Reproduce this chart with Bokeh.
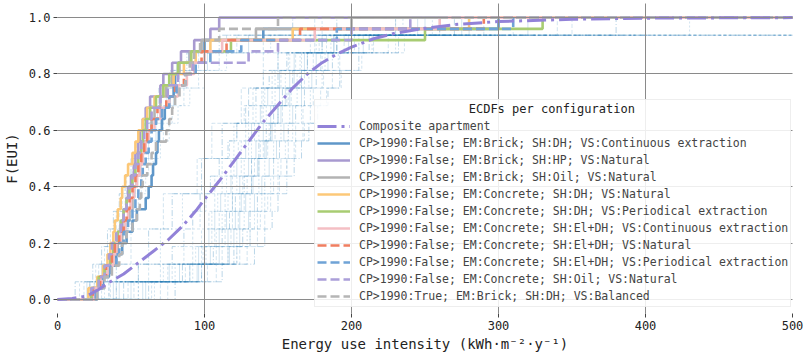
from bokeh.plotting import figure
from bokeh.models import FixedTicker, PrintfTickFormatter, Legend, LegendItem, Range1d
from bokeh.embed import file_html
from bokeh.resources import INLINE

# ---------------- data ----------------
X_LIM = (0, 500)
Y_LIM = (-0.05, 1.05)
X_TICKS = [0, 100, 200, 300, 400, 500]
Y_TICKS = [0.0, 0.2, 0.4, 0.6, 0.8, 1.0]
X_GRID = [100, 200, 300, 400, 500]

composite_label = "Composite apartment"
composite_x = [0, 10, 20, 28, 35, 45, 55, 65, 75, 85, 95, 100, 110, 120, 130, 140, 150,
               160, 170, 180, 190, 200, 215, 230, 250, 270, 300, 350, 400, 500]
composite_f = [0.0, 0.003, 0.012, 0.035, 0.06, 0.09, 0.13, 0.17, 0.21, 0.26, 0.32, 0.355,
               0.42, 0.49, 0.56, 0.63, 0.69, 0.75, 0.80, 0.84, 0.87, 0.895, 0.925, 0.945,
               0.962, 0.975, 0.986, 0.994, 0.998, 1.0]

legend_title = "ECDFs per configuration"
config_labels = [
    "CP>1990:False; EM:Brick; SH:DH; VS:Continuous extraction",
    "CP>1990:False; EM:Brick; SH:HP; VS:Natural",
    "CP>1990:False; EM:Brick; SH:Oil; VS:Natural",
    "CP>1990:False; EM:Concrete; SH:DH; VS:Natural",
    "CP>1990:False; EM:Concrete; SH:DH; VS:Periodical extraction",
    "CP>1990:False; EM:Concrete; SH:El+DH; VS:Continuous extraction",
    "CP>1990:False; EM:Concrete; SH:El+DH; VS:Natural",
    "CP>1990:False; EM:Concrete; SH:El+DH; VS:Periodical extraction",
    "CP>1990:False; EM:Concrete; SH:Oil; VS:Natural",
    "CP>1990:True; EM:Brick; SH:DH; VS:Balanced",
]
config_colors = ["#5f97c9", "#a89ad0", "#b3b3b3", "#fcc878", "#a8cc72",
                 "#f4bfc4", "#f07e60", "#6fa3d6", "#ab9fd9", "#b5b5b5"]
config_dashes = ["solid", "solid", "solid", "solid", "solid",
                 "solid", "9 4", "9 4", "9 4", "9 4"]

cfg_brick_dh_cont = [27, 31, 35, 40, 44, 47, 51, 54, 60, 62, 64, 65, 67, 68, 69, 71, 73, 76, 79, 80, 82, 90, 100, 140, 300]
cfg_brick_hp_nat = [24, 29, 32, 36, 38, 41, 44, 45, 47, 48, 50, 52, 53, 55, 56, 58, 60, 63, 70, 72, 78, 84, 93, 104, 110]
cfg_brick_oil_nat = [26, 30, 34, 38, 41, 44, 46, 49, 51, 52, 54, 56, 58, 59, 61, 64, 66, 70, 74, 78, 83, 90, 98, 135, 200]
cfg_conc_dh_nat = [21, 27, 31, 34, 36, 38, 39, 41, 43, 44, 46, 48, 51, 53, 55, 58, 61, 66, 72, 79, 86, 94, 104, 160, 280]
cfg_conc_dh_per = [23, 28, 32, 36, 38, 41, 43, 45, 47, 49, 51, 53, 55, 57, 58, 60, 63, 67, 72, 76, 82, 91, 118, 250, 330]
cfg_conc_eldh_cont = [25, 30, 34, 38, 40, 43, 46, 48, 50, 52, 54, 56, 58, 60, 62, 66, 70, 76, 82, 88, 93, 100, 112, 175, 260]
cfg_conc_eldh_nat = [24, 29, 33, 37, 39, 42, 45, 47, 49, 51, 53, 55, 57, 59, 61, 64, 68, 74, 80, 86, 92, 98, 115, 165, 290]
cfg_conc_eldh_per = [26, 31, 36, 40, 42, 45, 48, 51, 53, 55, 57, 58, 60, 62, 64, 67, 71, 76, 81, 87, 94, 104, 125, 190, 310]
cfg_conc_oil_nat = [23, 28, 32, 35, 37, 40, 43, 45, 47, 49, 51, 53, 55, 57, 59, 61, 64, 70, 75, 82, 92, 130, 150, 200, 240]
cfg_true_brick_dh_bal = [27, 32, 37, 42, 44, 47, 51, 54, 56, 57, 58, 61, 64, 67, 74, 76, 78, 80, 83, 87, 90, 93, 97, 110, 150]

config_samples = [cfg_brick_dh_cont, cfg_brick_hp_nat, cfg_brick_oil_nat, cfg_conc_dh_nat,
                  cfg_conc_dh_per, cfg_conc_eldh_cont, cfg_conc_eldh_nat, cfg_conc_eldh_per,
                  cfg_conc_oil_nat, cfg_true_brick_dh_bal]

# individual-building ECDF samples (thin background lines)
bg_right = [
    [25, 62, 86, 92, 97, 101, 107, 112, 117, 122, 127, 133, 140, 150, 172, 240],
    [38, 76, 96, 103, 107, 111, 118, 122, 128, 132, 138, 143, 151, 161, 180, 250],
    [45, 85, 106, 112, 117, 121, 127, 132, 137, 142, 147, 153, 160, 170, 190, 260],
    [55, 92, 116, 122, 127, 131, 137, 141, 147, 152, 158, 163, 171, 182, 205, 300],
    [70, 102, 124, 131, 136, 141, 147, 152, 157, 162, 167, 174, 181, 192, 215, 340],
    [30, 70, 92, 98, 103, 107, 112, 118, 123, 128, 133, 139, 146, 157, 178, 520],
    [50, 90, 110, 116, 121, 125, 132, 136, 142, 146, 152, 158, 166, 176, 198, 280],
    [62, 98, 120, 126, 131, 136, 141, 147, 151, 157, 162, 168, 176, 187, 212, 380],
    [40, 80, 101, 108, 112, 116, 122, 127, 132, 137, 142, 148, 155, 166, 186, 255],
    [75, 108, 129, 136, 141, 145, 151, 156, 161, 167, 172, 179, 187, 200, 225, 520],
    [35, 75, 98, 107, 114, 119, 126, 132, 138, 144, 150, 157, 166, 180, 205, 310],
    [60, 96, 116, 120, 124, 128, 133, 137, 141, 145, 150, 155, 161, 170, 188, 245],
    [22, 55, 78, 86, 92, 97, 104, 110, 116, 122, 128, 135, 144, 156, 180, 270],
    [66, 100, 122, 129, 134, 139, 145, 150, 155, 160, 166, 172, 180, 191, 214, 430],
    [48, 87, 108, 114, 119, 124, 129, 134, 140, 145, 150, 156, 163, 174, 195, 290],
    [36, 78, 99, 105, 110, 114, 119, 125, 130, 134, 139, 146, 152, 162, 183, 520],
    [58, 95, 117, 124, 130, 134, 139, 144, 149, 154, 160, 166, 173, 184, 208, 320],
    [80, 112, 134, 141, 146, 150, 156, 161, 166, 171, 177, 184, 192, 205, 232, 400],
    [32, 72, 94, 100, 105, 109, 115, 120, 125, 130, 135, 141, 148, 158, 176, 235],
    [52, 90, 112, 118, 123, 127, 132, 137, 143, 148, 153, 159, 168, 179, 202, 350],
    [64, 98, 122, 131, 138, 143, 150, 156, 162, 168, 175, 183, 193, 207, 236, 520],
    [42, 83, 104, 110, 115, 119, 124, 130, 135, 140, 145, 151, 158, 168, 188, 275],
]
bg_coarse = [
    [40, 62, 78, 98, 112, 130, 150, 190],
    [55, 70, 85, 100, 120, 140, 165, 230],
    [35, 50, 72, 95, 105, 125, 140, 175],
]
bg_left = [
    [15, 26, 32, 36, 40, 44, 47, 51, 55, 59, 64, 70, 78, 90, 115, 180],
    [20, 30, 36, 41, 45, 49, 53, 57, 62, 67, 72, 79, 88, 102, 130, 230],
    [12, 24, 30, 34, 38, 42, 46, 50, 54, 58, 63, 69, 77, 88, 110, 160],
    [25, 34, 40, 45, 50, 55, 60, 65, 70, 76, 82, 90, 100, 115, 145, 300],
    [18, 28, 34, 38, 42, 46, 50, 54, 58, 63, 68, 74, 83, 96, 122, 520],
    [22, 32, 38, 43, 48, 53, 57, 62, 67, 72, 78, 86, 96, 110, 140, 260],
]

MONO = "DejaVu Sans Mono"


def ecdf_xy(samples):
    s = sorted(samples)
    n = len(s)
    xs = [X_LIM[0]] + s + [max(X_LIM[1], s[-1])]
    ys = [0.0] + [(i + 1) / n for i in range(n)] + [1.0]
    return xs, ys


p = figure(width=804, height=354, x_range=Range1d(*X_LIM), y_range=Range1d(*Y_LIM),
           output_backend="svg", toolbar_location=None,
           min_border_left=55, min_border_right=12, min_border_top=3, min_border_bottom=41)
p.outline_line_color = None
p.background_fill_color = "white"
p.border_fill_color = "white"

# background thin lines
bg_dashes = ["3 2", "solid", "6 2 1 2", "2 2", "4 2"]
all_bg = bg_right + bg_coarse + bg_left
for i, smp in enumerate(all_bg):
    xs, ys = ecdf_xy(smp)
    dash = bg_dashes[i % len(bg_dashes)]
    alpha = 0.38 if dash == "6 2 1 2" else 0.25
    p.step(xs, ys, mode="after", line_color="#1f77b4", line_alpha=alpha,
           line_width=0.8, line_dash=dash)

# configuration ECDFs
cfg_renderers = []
for smp, col, dash in zip(config_samples, config_colors, config_dashes):
    xs, ys = ecdf_xy(smp)
    r = p.step(xs, ys, mode="after", line_color=col, line_width=2.6, line_dash=dash)
    cfg_renderers.append(r)

# composite
r_comp = p.line(composite_x, composite_f, line_color="#9282d8", line_width=3,
                line_dash="19 5 3 5")

# axes
p.xaxis.ticker = FixedTicker(ticks=X_TICKS)
p.yaxis.ticker = FixedTicker(ticks=Y_TICKS)
p.yaxis.formatter = PrintfTickFormatter(format="%.1f")
for ax in (p.xaxis[0], p.yaxis[0]):
    ax.axis_line_color = None
    ax.major_tick_line_color = "#444444"
    ax.major_tick_out = 4
    ax.major_tick_in = 0
    ax.minor_tick_line_color = None
    ax.major_label_text_font = MONO
    ax.major_label_text_font_size = "12px"
    ax.major_label_text_color = "#222222"
    ax.major_label_standoff = 3
    ax.axis_label_text_font = MONO
    ax.axis_label_text_font_size = "14px"
    ax.axis_label_text_font_style = "normal"
    ax.axis_label_text_color = "#222222"
p.yaxis.axis_label = "F(EUI)"
p.yaxis.axis_label_standoff = 6
p.xaxis.axis_label = "Energy use intensity (kWh\u00b7m\u207b\u00b2\u00b7y\u207b\u00b9)"
p.xaxis.axis_label_standoff = 3

# grid (drawn over data, like the reference)
p.xgrid.ticker = FixedTicker(ticks=X_GRID)
p.ygrid.ticker = FixedTicker(ticks=Y_TICKS)
for g in (p.xgrid[0], p.ygrid[0]):
    g.grid_line_color = "#8a8a8a"
    g.grid_line_width = 1
    g.level = "overlay"

# legend (title centred with non-breaking spaces)
items = [LegendItem(label=composite_label, renderers=[r_comp])]
items += [LegendItem(label=lbl, renderers=[r]) for lbl, r in zip(config_labels, cfg_renderers)]
legend = Legend(items=items, location=(257, 6), title="\u00a0" * 21 + legend_title,
                title_text_font=MONO, title_text_font_size="12px",
                title_text_font_style="normal", title_text_color="#222222",
                title_standoff=2,
                label_text_font=MONO, label_text_font_size="11.5px",
                glyph_width=33, glyph_height=16, label_height=16, spacing=1,
                padding=2, margin=0, label_standoff=9,
                border_line_color="#dddddd", border_line_width=1,
                background_fill_color="white", background_fill_alpha=0.85)
p.add_layout(legend)

open("out.html", "w").write(file_html(p, INLINE))
